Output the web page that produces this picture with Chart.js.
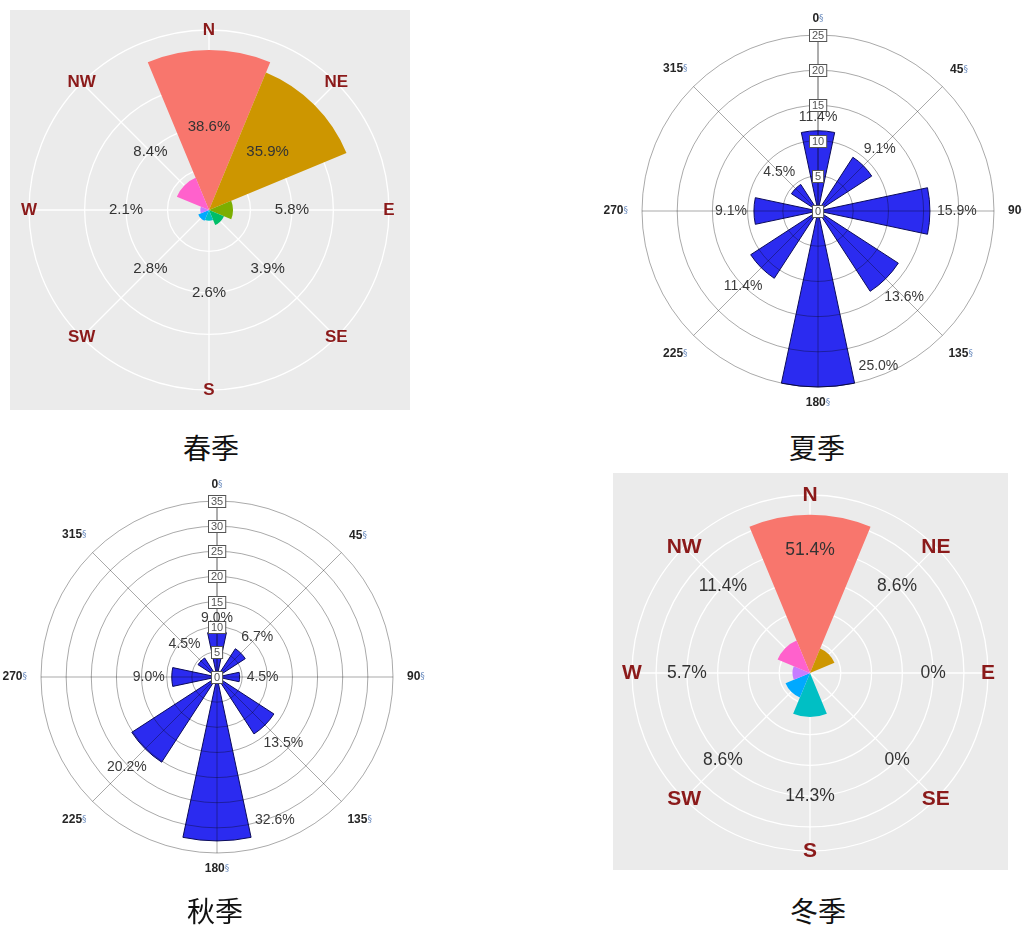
<!DOCTYPE html>
<html>
<head>
<meta charset="utf-8">
<script src="https://cdn.jsdelivr.net/npm/chart.js@4/dist/chart.umd.min.js"></script>
<style>
  body { margin: 0; background: #fff; width: 1022px; height: 926px; position: relative; overflow: hidden; }
  .panel { position: absolute; }
  .panel canvas { display: block; }
  .title { position: absolute; width: 200px; text-align: center; font: 28px "Noto Sans CJK SC", sans-serif; color: #111; line-height: 28px; }
</style>
</head>
<body>
<div class="panel" style="left:10px;top:10px;background:#ebebeb"><canvas id="spring" width="400" height="400"></canvas></div>
<div class="panel" style="left:600px;top:0px"><canvas id="summer" width="422" height="425"></canvas></div>
<div class="panel" style="left:0px;top:470px"><canvas id="autumn" width="440" height="425"></canvas></div>
<div class="panel" style="left:613px;top:473px;background:#ebebeb"><canvas id="winter" width="395" height="397"></canvas></div>

<div class="title" style="left:111px;top:433px">春季</div>
<div class="title" style="left:717px;top:433px">夏季</div>
<div class="title" style="left:115px;top:896px">秋季</div>
<div class="title" style="left:718px;top:896px">冬季</div>

<script>
// Directions, clockwise from north
const directions = ['N', 'NE', 'E', 'SE', 'S', 'SW', 'W', 'NW'];
const degreeLabels = ['0', '45', '90', '135', '180', '225', '270', '315'];

// Wind frequency (%) per direction
const springValues = [38.6, 35.9, 5.8, 3.9, 2.6, 2.8, 2.1, 8.4];
const summerValues = [11.4, 9.1, 15.9, 13.6, 25.0, 11.4, 9.1, 4.5];
const autumnValues = [9.0, 6.7, 4.5, 13.5, 32.6, 20.2, 9.0, 4.5];
const winterValues = [51.4, 8.6, 0, 0, 14.3, 8.6, 5.7, 11.4];

// Radial ticks
const springRings = [10, 20, 30];
const winterRings = [10, 20, 30, 40, 50];
const summerTicks = [0, 5, 10, 15, 20, 25];
const autumnTicks = [0, 5, 10, 15, 20, 25, 30, 35];

const ggColors = ['#F8766D', '#CD9600', '#7CAE00', '#00BE67', '#00BFC4', '#00A9FF', '#C77CFF', '#FF61CC'];
const barAngle = 24; // width of the bars in the excel-style roses

function dirPoint(s, i, r) {
    const a = i * Math.PI / 4;
    return { x: s.xCenter + r * Math.sin(a), y: s.yCenter - r * Math.cos(a) };
}

function pctText(v) {
    return v === 0 ? '0%' : v.toFixed(1) + '%';
}

// ggplot-style rose (grey panel, coloured wedges)
function ggRose(id, values, rings, pctAt, sizes, padding) {
    const max = Math.max(...values) * 1.125;
    const plugin = {
        id: 'ggRose',
        beforeDatasetsDraw(chart) {
            const s = chart.scales.r, ctx = chart.ctx;
            ctx.save();
            ctx.strokeStyle = '#fff';
            ctx.lineWidth = 1.3;
            directions.forEach((d, i) => {
                const p = dirPoint(s, i, s.drawingArea);
                ctx.beginPath();
                ctx.moveTo(s.xCenter, s.yCenter);
                ctx.lineTo(p.x, p.y);
                ctx.stroke();
            });
            ctx.restore();
        },
        afterDatasetsDraw(chart) {
            const s = chart.scales.r, ctx = chart.ctx;
            ctx.save();
            ctx.textAlign = 'center';
            ctx.textBaseline = 'middle';
            ctx.fillStyle = '#333';
            ctx.font = sizes.pct + 'px "Liberation Sans", Arial, sans-serif';
            values.forEach((v, i) => {
                const p = dirPoint(s, i, s.getDistanceFromCenterForValue(pctAt));
                ctx.fillText(pctText(v), p.x, p.y);
            });
            ctx.fillStyle = '#8b1a1a';
            ctx.font = 'bold ' + sizes.dir + 'px "Liberation Sans", Arial, sans-serif';
            directions.forEach((d, i) => {
                const p = dirPoint(s, i, s.drawingArea);
                ctx.fillText(d, p.x, p.y);
            });
            ctx.restore();
        }
    };
    new Chart(document.getElementById(id), {
        type: 'polarArea',
        data: {
            labels: directions,
            datasets: [{ data: values, backgroundColor: ggColors, borderWidth: 0 }]
        },
        options: {
            responsive: false,
            animation: false,
            layout: { padding },
            plugins: { legend: { display: false }, tooltip: { enabled: false } },
            scales: {
                r: {
                    min: 0,
                    max,
                    startAngle: -22.5,
                    afterBuildTicks: sc => { sc.ticks = [0, ...rings, max].map(v => ({ value: v })); },
                    ticks: { display: false },
                    grid: { color: '#fff', lineWidth: 1.3 },
                    angleLines: { display: false },
                    pointLabels: { display: false }
                }
            }
        },
        plugins: [plugin]
    });
}

// Excel-style rose (white background, blue bars, boxed axis ticks)
function xlRose(id, values, tickValues, padding) {
    const data = values.flatMap(v => [v, 0]);
    const angles = values.flatMap(() => [barAngle, 45 - barAngle]);
    const plugin = {
        id: 'xlRose',
        afterDatasetsDraw(chart) {
            const s = chart.scales.r, ctx = chart.ctx;
            const R = s.drawingArea;
            // grid over the bars, multiplied so it darkens the blue
            ctx.save();
            ctx.globalCompositeOperation = 'multiply';
            ctx.lineWidth = 1;
            ctx.strokeStyle = '#a9a9a9';
            s.ticks.forEach(t => {
                if (t.value <= 0) return;
                ctx.beginPath();
                ctx.arc(s.xCenter, s.yCenter, s.getDistanceFromCenterForValue(t.value), 0, Math.PI * 2);
                ctx.stroke();
            });
            directions.forEach((d, i) => {
                const p = dirPoint(s, i, R);
                ctx.strokeStyle = i === 0 ? '#5a5a5a' : '#a9a9a9';
                ctx.beginPath();
                ctx.moveTo(s.xCenter, s.yCenter);
                ctx.lineTo(p.x, p.y);
                ctx.stroke();
            });
            ctx.restore();

            ctx.save();
            ctx.textAlign = 'center';
            ctx.textBaseline = 'middle';
            // boxed tick labels along the north axis
            ctx.font = '11px "Liberation Sans", Arial, sans-serif';
            s.ticks.forEach(t => {
                const y = s.yCenter - s.getDistanceFromCenterForValue(t.value);
                const txt = String(t.value);
                const w = Math.max(10, ctx.measureText(txt).width + 5);
                const h = 12;
                ctx.fillStyle = '#fff';
                ctx.fillRect(Math.round(s.xCenter - w / 2) + 0.5, Math.round(y - h / 2) + 0.5, w, h);
                ctx.strokeStyle = '#555';
                ctx.strokeRect(Math.round(s.xCenter - w / 2) + 0.5, Math.round(y - h / 2) + 0.5, w, h);
                ctx.fillStyle = '#555';
                ctx.fillText(txt, s.xCenter, y + 1);
            });

            // percentage labels beside the bar ends
            ctx.font = '14px "Liberation Sans", Arial, sans-serif';
            ctx.fillStyle = '#3a3a3a';
            values.forEach((v, i) => {
                const txt = pctText(v);
                const w = ctx.measureText(txt).width, h = 14;
                const r = s.getDistanceFromCenterForValue(v);
                const a = i * Math.PI / 4;
                let x, y;
                if (i === 4) {
                    const c = a - barAngle / 2 * Math.PI / 180;
                    x = s.xCenter + r * Math.sin(c) + w / 2 + 4;
                    y = s.yCenter - r * Math.cos(c) - 17;
                } else {
                    const d = Math.abs(Math.sin(a)) * w / 2 + Math.abs(Math.cos(a)) * h / 2 + 7;
                    x = s.xCenter + (r + d) * Math.sin(a);
                    y = s.yCenter - (r + d) * Math.cos(a);
                }
                ctx.fillText(txt, x, y);
            });

            // degree labels around the outside
            degreeLabels.forEach((lab, i) => {
                const a = i * Math.PI / 4;
                ctx.font = 'bold 12px "Liberation Sans", Arial, sans-serif';
                const w1 = ctx.measureText(lab).width;
                ctx.font = '9px "DejaVu Sans", sans-serif';
                const w2 = ctx.measureText('§').width;
                const w = w1 + w2, h = 12;
                const d = 10 + Math.abs(Math.sin(a)) * (w / 2 + 4) + Math.abs(Math.cos(a)) * h / 2;
                const cx = s.xCenter + (R + d) * Math.sin(a);
                const cy = s.yCenter - (R + d) * Math.cos(a);
                ctx.textAlign = 'left';
                ctx.font = 'bold 12px "Liberation Sans", Arial, sans-serif';
                ctx.fillStyle = '#262626';
                ctx.fillText(lab, cx - w / 2, cy);
                ctx.font = '9px "DejaVu Sans", sans-serif';
                ctx.fillStyle = '#6f8fc0';
                ctx.fillText('§', cx - w / 2 + w1, cy);
            });
            ctx.restore();
        }
    };
    new Chart(document.getElementById(id), {
        type: 'polarArea',
        data: {
            labels: data.map((v, i) => i % 2 ? '' : degreeLabels[i / 2]),
            datasets: [{
                data,
                angle: angles,
                backgroundColor: '#2b2bf0',
                borderColor: '#0b0b5a',
                borderWidth: ctx => ctx.raw ? 1 : 0
            }]
        },
        options: {
            responsive: false,
            animation: false,
            layout: { padding },
            plugins: { legend: { display: false }, tooltip: { enabled: false } },
            scales: {
                r: {
                    min: 0,
                    max: tickValues[tickValues.length - 1],
                    startAngle: -barAngle / 2,
                    afterBuildTicks: sc => { sc.ticks = tickValues.map(v => ({ value: v })); },
                    ticks: { display: false },
                    grid: { display: false },
                    angleLines: { display: false },
                    pointLabels: { display: false }
                }
            }
        },
        plugins: [plugin]
    });
}

ggRose('spring', springValues, springRings, 20, { pct: 15, dir: 17 }, { left: 19, right: 21, top: 20, bottom: 20 });
ggRose('winter', winterValues, winterRings, 40, { pct: 17.5, dir: 21 }, { left: 19, right: 20, top: 22, bottom: 19 });
xlRose('summer', summerValues, summerTicks, { left: 42, right: 28, top: 35, bottom: 38 });
xlRose('autumn', autumnValues, autumnTicks, { left: 41, right: 47, top: 31, bottom: 42 });
</script>
</body>
</html>
